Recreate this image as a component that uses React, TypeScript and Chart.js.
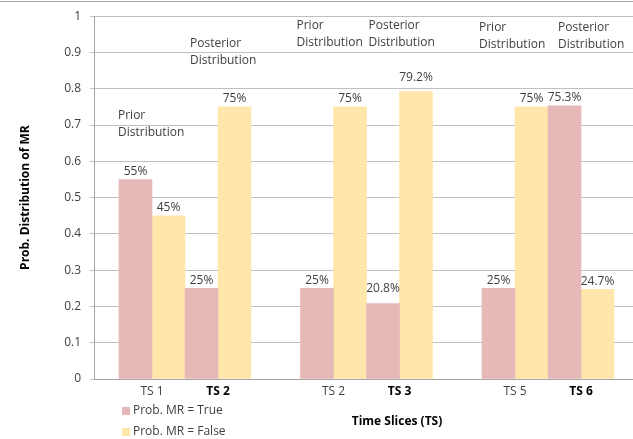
import React, { useEffect, useRef } from 'react';
import { Chart, registerables } from 'chart.js';

Chart.register(...registerables);

// ---- data ----
const categories = ['TS 1', 'TS 2', 'TS 2', 'TS 3', 'TS 5', 'TS 6'];
const probTrue = [0.55, 0.25, 0.25, 0.208, 0.25, 0.753];
const probFalse = [0.45, 0.75, 0.75, 0.792, 0.75, 0.247];
const trueLabels = ['55%', '25%', '25%', '20.8%', '25%', '75.3%'];
const falseLabels = ['45%', '75%', '75%', '79.2%', '75%', '24.7%'];
const noteTexts = [
  ['Prior', 'Distribution'],
  ['Posterior', 'Distribution'],
  ['Prior', 'Distribution'],
  ['Posterior', 'Distribution'],
  ['Prior', 'Distribution'],
  ['Posterior', 'Distribution'],
];
const seriesNames = ['Prob. MR = True', 'Prob. MR = False'];

// ---- layout / style (not data) ----
const FONT = "'Open Sans', sans-serif";
const PINK = '#E6B9B8';
const YELLOW = '#FFE6AA';
const GRID = '#BFBFBF';
const AXIS = '#A6A6A6';
const BAR = 33; // px per bar
const CANVAS_W = 700;
const CANVAS_H = 439;
const Y_AXIS_W = 94;
const X_AXIS_H = 60;
const PAD_TOP = 12;
const LEFT_GAP = 58 / BAR; // units from plot left edge to first pair centre
// annotation anchor: y in data units, dx in px from pair's left edge
const noteY = [0.725, 0.925, 0.975, 0.975, 0.97, 0.97];
const noteDx = [-1, 5, -4, 2, -3, 10];
const labelLift = [8, 8, 8, 15, 8, 8];
const labelLiftFalse = [8, 8, 8, 14, 8, 8];

// slot position of each category (in bar-width units): pairs of categories, with a gap between pairs
const slot = (i: number) => 2 * i + 1.5 * Math.floor(i / 2);

const overlayPlugin = {
  id: 'overlay',
  afterDatasetsDraw(chart: any) {
    const { ctx } = chart;
    const xs = chart.scales.x;
    const ys = chart.scales.y;
    ctx.save();
    // value labels
    ctx.font = `12px ${FONT}`;
    ctx.fillStyle = '#404040';
    ctx.textAlign = 'center';
    ctx.textBaseline = 'middle';
    const labelSets = [trueLabels, falseLabels];
    const lifts = [labelLift, labelLiftFalse];
    chart.data.datasets.forEach((_: any, di: number) => {
      const meta = chart.getDatasetMeta(di);
      meta.data.forEach((el: any, i: number) => {
        ctx.fillText(labelSets[di][i], el.x, el.y - lifts[di][i]);
      });
    });
    // annotations
    ctx.textAlign = 'left';
    noteTexts.forEach((lines, i) => {
      const left = xs.getPixelForValue(slot(i)) - BAR + noteDx[i];
      const y0 = ys.getPixelForValue(noteY[i]);
      lines.forEach((t, li) => ctx.fillText(t, left, y0 + li * 17));
    });
    // legend
    chart.data.datasets.forEach((ds: any, di: number) => {
      const y = 411 + di * 21;
      ctx.fillStyle = ds.backgroundColor;
      ctx.fillRect(122, y - 4, 8, 8);
      ctx.fillStyle = '#404040';
      ctx.fillText(ds.label, 133, y);
    });
    ctx.restore();
  },
};

export default function App() {
  const ref = useRef<HTMLCanvasElement | null>(null);
  useEffect(() => {
    if (!ref.current) return;
    const chart = new Chart(ref.current, {
      type: 'bar',
      data: {
        datasets: [
          {
            label: seriesNames[0],
            data: probTrue.map((v, i) => ({ x: slot(i), y: v })),
            backgroundColor: PINK,
            barThickness: BAR,
          },
          {
            label: seriesNames[1],
            data: probFalse.map((v, i) => ({ x: slot(i), y: v })),
            backgroundColor: YELLOW,
            barThickness: BAR,
          },
        ],
      },
      options: {
        animation: false,
        responsive: false,
        devicePixelRatio: 1,
        layout: { padding: { top: PAD_TOP, left: 0, right: 0, bottom: 0 } },
        plugins: { legend: { display: false }, tooltip: { enabled: false } },
        scales: {
          x: {
            type: 'linear',
            offset: false,
            min: -LEFT_GAP,
            max: -LEFT_GAP + (CANVAS_W - Y_AXIS_W) / BAR,
            grid: { display: false, drawTicks: false, offset: false },
            border: { display: true, color: AXIS, width: 1 },
            afterBuildTicks: (s: any) => {
              s.ticks = categories.map((_, i) => ({ value: slot(i) }));
            },
            afterFit: (s: any) => {
              s.height = X_AXIS_H;
            },
            ticks: {
              autoSkip: false,
              maxRotation: 0,
              padding: 5,
              callback: (_v: any, idx: number) => categories[idx],
              font: (c: any) => ({ family: FONT, size: 12, weight: c.index % 2 ? 'bold' : 'normal' }),
              color: (c: any) => (c.index % 2 ? '#000000' : '#404040'),
            },
            title: {
              display: true,
              text: 'Time Slices (TS)',
              font: { family: FONT, size: 12, weight: 'bold' },
              color: '#000000',
              padding: { top: 0, bottom: 10 },
            },
          },
          y: {
            min: 0,
            max: 1,
            ticks: {
              stepSize: 0.1,
              padding: 9,
              color: '#404040',
              font: { family: FONT, size: 12 },
              callback: (v: any) => String(Math.round(Number(v) * 10) / 10),
            },
            grid: { color: GRID, tickLength: 4, drawTicks: true },
            border: { display: true, color: AXIS, width: 1 },
            afterFit: (s: any) => {
              s.width = Y_AXIS_W;
            },
            title: {
              display: true,
              text: 'Prob. Distribution of MR',
              font: { family: FONT, size: 12, weight: 'bold' },
              color: '#000000',
              padding: { top: 18, bottom: 0 },
            },
          },
        },
      },
      plugins: [overlayPlugin],
    } as any);
    return () => chart.destroy();
  }, []);

  return (
    <div
      style={{
        position: 'absolute',
        left: 0,
        top: 0,
        width: 633,
        height: 439,
        overflow: 'hidden',
        background: '#ffffff',
      }}
    >
      <div style={{ position: 'absolute', left: 0, top: 1, width: 633, height: 1, background: AXIS }} />
      <canvas ref={ref} width={CANVAS_W} height={CANVAS_H} style={{ display: 'block' }} />
    </div>
  );
}
